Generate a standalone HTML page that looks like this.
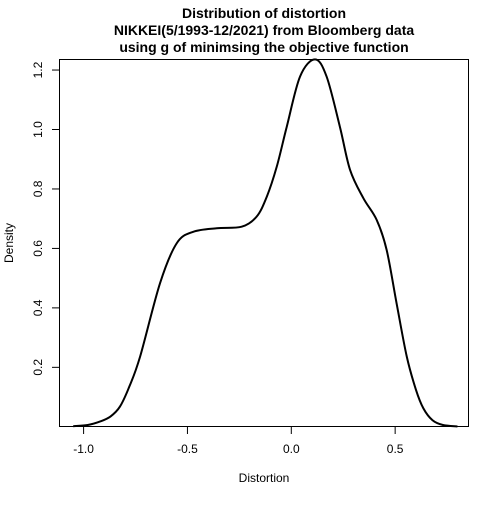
<!DOCTYPE html>
<html><head><meta charset="utf-8"><style>
body{margin:0;background:#fff}
svg text{font-family:"Liberation Sans",Arial,sans-serif}
</style></head><body>
<svg id="chart" width="500" height="500" viewBox="0 0 500 500">
<g font-size="14" font-weight="bold" text-anchor="middle">
<text x="264" y="18">Distribution of distortion</text>
<text x="264" y="35">NIKKEI(5/1993-12/2021) from Bloomberg data</text>
<text x="264" y="52">using g of minimsing the objective function</text>
</g>
<line x1="59" y1="426.5" x2="469" y2="426.5" stroke="#bbb"/>
<rect x="59.5" y="59.5" width="409" height="367" fill="none" stroke="#000"/>
<g id="xaxis"></g>
<g id="yaxis"></g>
<text x="264" y="482" font-size="12" text-anchor="middle">Distortion</text>
<text transform="translate(13,243) rotate(-90)" font-size="12" text-anchor="middle">Density</text>
<path id="curve" fill="none" stroke="#000" stroke-width="2"/>
</svg>
<script>
const xs=[-1.05,-0.98,-0.92,-0.87,-0.825,-0.78,-0.728,-0.632,-0.552,-0.472,-0.359,-0.239,-0.167,-0.118,-0.070,-0.022,0.042,0.114,0.170,0.234,0.283,0.347,0.411,0.459,0.507,0.556,0.60,0.636,0.68,0.73,0.80];
const dens=[0.002,0.006,0.018,0.035,0.068,0.135,0.236,0.483,0.617,0.656,0.668,0.673,0.707,0.774,0.875,1.009,1.178,1.236,1.178,1.009,0.864,0.769,0.696,0.595,0.415,0.236,0.125,0.062,0.022,0.006,0.001];
const xTicks=[-1.0,-0.5,0.0,0.5];
const xTickLabels=["-1.0","-0.5","0.0","0.5"];
const yTicks=[0.2,0.4,0.6,0.8,1.0,1.2];
const yTickLabels=["0.2","0.4","0.6","0.8","1.0","1.2"];
const NS="http://www.w3.org/2000/svg";
function sx(v){return 291.3+v*207.7;}
function sy(v){return 426.8-v*297.3;}
const xa=document.getElementById('xaxis');
const ya=document.getElementById('yaxis');
xTicks.forEach((t,i)=>{
 const l=document.createElementNS(NS,'line');
 
 
 l.setAttribute('x1',sx(t));l.setAttribute('x2',sx(t));l.setAttribute('y1',427);l.setAttribute('y2',434);l.setAttribute('stroke','#000');
 xa.appendChild(l);
 const tx=document.createElementNS(NS,'text');
 
 
 tx.setAttribute('x',sx(t));tx.setAttribute('y',453);tx.setAttribute('font-size','12');tx.setAttribute('text-anchor','middle');
 tx.textContent=xTickLabels[i];xa.appendChild(tx);
});
yTicks.forEach((t,i)=>{
 const l=document.createElementNS(NS,'line');
 
 
 l.setAttribute('x1',52);l.setAttribute('x2',59);l.setAttribute('y1',sy(t));l.setAttribute('y2',sy(t));l.setAttribute('stroke','#000');
 ya.appendChild(l);
 const tx=document.createElementNS(NS,'text');
 
 
 tx.setAttribute('transform','translate(42,'+sy(t)+') rotate(-90)');tx.setAttribute('font-size','12');tx.setAttribute('text-anchor','middle');
 tx.textContent=yTickLabels[i];ya.appendChild(tx);
});
const P=xs.map((x,i)=>[sx(x),sy(dens[i])]);
let d='M'+P[0][0]+','+P[0][1];
for(let i=0;i<P.length-1;i++){
 const p0=P[Math.max(0,i-1)],p1=P[i],p2=P[i+1],p3=P[Math.min(P.length-1,i+2)];
 const c1=[p1[0]+(p2[0]-p0[0])/6,p1[1]+(p2[1]-p0[1])/6];
 const c2=[p2[0]-(p3[0]-p1[0])/6,p2[1]-(p3[1]-p1[1])/6];
 d+=' C'+c1[0]+','+c1[1]+' '+c2[0]+','+c2[1]+' '+p2[0]+','+p2[1];
}
document.getElementById('curve').setAttribute('d',d);
</script>
</body></html>
